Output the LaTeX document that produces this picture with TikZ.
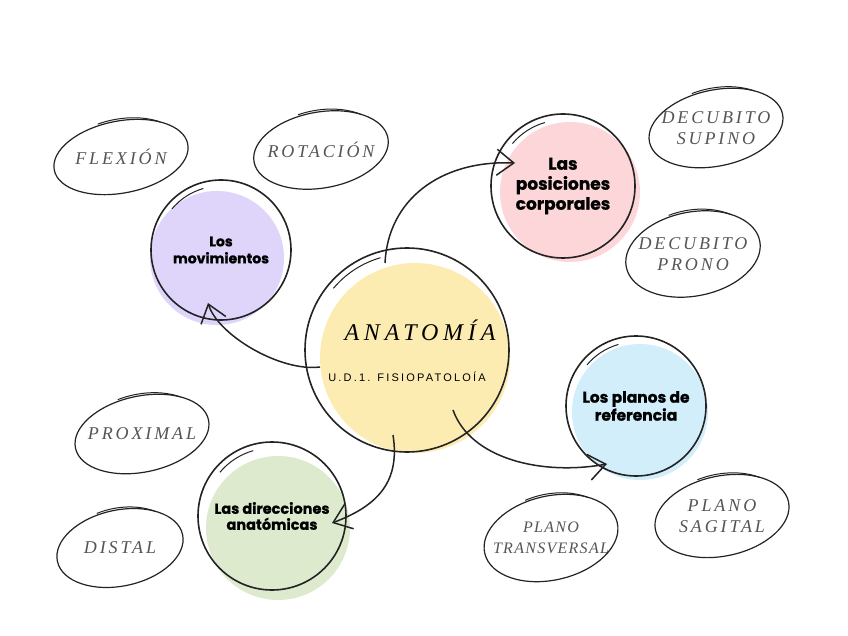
\documentclass[tikz,border=0pt]{standalone}
\usepackage{fontspec}
\setmainfont{Liberation Serif}
\newfontfamily\headfont{Poppins}[BoldFeatures={FakeBold=1}]
\newfontfamily\tagfont{Liberation Serif}[LetterSpace=16]
\newfontfamily\subfont{Liberation Sans}[LetterSpace=20]
\usetikzlibrary{shapes,positioning,arrows.meta,calc,backgrounds}
\definecolor{ink}{RGB}{35,35,35}
\definecolor{tagcol}{RGB}{85,85,85}
\definecolor{colAnat}{RGB}{253,236,178}
\definecolor{colMov}{RGB}{223,213,250}
\definecolor{colPos}{RGB}{252,214,216}
\definecolor{colPlan}{RGB}{211,238,251}
\definecolor{colDir}{RGB}{222,234,206}

\begin{document}
\begin{tikzpicture}[x=1pt, y=-1pt,
    every node/.style={align=center},
    topic/.style={circle, draw=ink, line width=1.6pt, inner sep=0pt},
    tag/.style={font=\tagfont\itshape\fontsize{18}{21}\selectfont, text=tagcol},
    ring/.style={draw=ink, line width=1.2pt},
    arr/.style={draw=ink, line width=1.5pt, -{Straight Barb[length=17pt, width=26pt]}}
]
    \useasboundingbox (0,0) rectangle (848,636);

    \node[topic, minimum size=204pt] (anat) at (407,350) {};
    \node[font=\itshape\fontsize{24}{28}\selectfont\addfontfeature{LetterSpace=20}] (ttl) at ($(anat)+(13,-20)$) {ANATOMÍA};
    \node[font=\subfont\fontsize{11}{13}\selectfont] (sub) at ($(anat)+(0,27)$) {U.D.1. FISIOPATOLOÍA};

    \node[topic, minimum size=140pt, font=\headfont\bfseries\fontsize{14}{17}\selectfont] (mov) at (221,250) {Los\\movimientos};
    \node[topic, minimum size=144pt, font=\headfont\bfseries\fontsize{17}{20}\selectfont] (pos) at (563,186) {Las\\posiciones\\corporales};
    \node[topic, minimum size=140pt, font=\headfont\bfseries\fontsize{15.5}{18}\selectfont] (plan) at (636,406) {Los planos de\\referencia};
    \node[topic, minimum size=148pt, font=\headfont\bfseries\fontsize{14.5}{16}\selectfont] (dir) at (272,516) {Las direcciones\\anatómicas};

    \node[tag] (flex) at (121,157) {FLEXIÓN};
    \node[tag] (rot) at (321,150) {ROTACIÓN};
    \node[tag] (sup) at (716,128) {DECUBITO\\SUPINO};
    \node[tag] (pron) at (693,254) {DECUBITO\\PRONO};
    \node[tag] (prox) at (142,434) {PROXIMAL};
    \node[tag] (dist) at (120,548) {DISTAL};
    \node[tag, font=\tagfont\itshape\fontsize{16}{21}\selectfont\addfontfeature{LetterSpace=8}] (trans) at (551,538) {PLANO\\TRANSVERSAL};
    \node[tag] (sag) at (722,516) {PLANO\\SAGITAL};

    \foreach \n/\a/\rx/\ry in {flex/11/68/36, rot/10/68/38, sup/12/68/38, pron/11/68/42, prox/12/68/38, dist/12/64/38, trans/13/68/42, sag/12/68/40}{
        \begin{scope}[shift={(\n)}, rotate=\a]
            \draw[ring] (0,0) ellipse [x radius=\rx, y radius=\ry];
            \draw[ring, line width=1pt] (-105:{\rx-4} and {\ry+2}) arc [start angle=-105, end angle=-45, x radius=\rx-4, y radius=\ry+2];
        \end{scope}
    }

    \foreach \n/\r in {anat/102, mov/70, pos/72, plan/70, dir/74}
        \draw[ink, line width=1pt] ($(\n)+(-140:{\r-6})$) arc [start angle=-140, end angle=-106, radius=\r-6];

    \draw[arr] ($(anat)+(-22,-87)$) .. controls (388,200) and (440,160) .. ($(pos)+(-48,-23)$);
    \draw[arr] ($(anat)+(-87,17)$) .. controls (280,372) and (218,335) .. ($(mov)+(-13,53)$);
    \draw[arr] ($(anat)+(46,60)$) .. controls (470,458) and (540,476) .. ($(plan)+(-29,58)$);
    \draw[arr] ($(anat)+(-14,85)$) .. controls (400,480) and (380,505) .. ($(dir)+(60,7)$);

    \begin{scope}[on background layer]
        \fill[white] (0,0) rectangle (848,636);
        \fill[colAnat] ($(anat)+(8,8)$) circle [radius=95];
        \fill[colMov] ($(mov)+(-4,8)$) circle [radius=67];
        \fill[colPos] ($(pos)+(7,6)$) circle [radius=70];
        \fill[colPlan] ($(plan)+(4,6)$) circle [radius=68];
        \fill[colDir] ($(dir)+(6,12)$) circle [radius=72];
    \end{scope}
\end{tikzpicture}
\end{document}
